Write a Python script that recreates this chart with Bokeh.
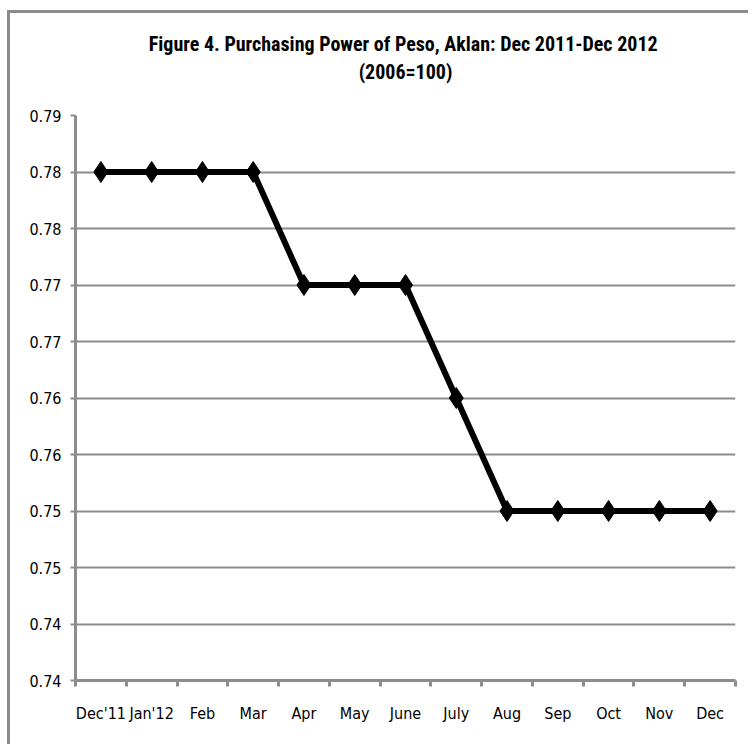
import numpy as np
from bokeh.plotting import figure
from bokeh.models import Range1d, FixedTicker, Title, ColumnDataSource
from bokeh.embed import file_html
from bokeh.resources import INLINE

months = ["Dec'11", "Jan'12", "Feb", "Mar", "Apr", "May", "June", "July",
          "Aug", "Sep", "Oct", "Nov", "Dec"]
ppp = [0.785, 0.785, 0.785, 0.785, 0.775, 0.775, 0.775, 0.765,
       0.755, 0.755, 0.755, 0.755, 0.755]
y_ticks = [0.74, 0.745, 0.75, 0.755, 0.76, 0.765, 0.77, 0.775, 0.78, 0.785, 0.79]
y_tick_labels = ["0.74", "0.74", "0.75", "0.75", "0.76", "0.76", "0.77", "0.77",
                 "0.78", "0.78", "0.79"]
title_lines = ["Figure 4. Purchasing Power of Peso,  Aklan: Dec 2011-Dec 2012", "(2006=100)"]

FONT = "DejaVu Sans Condensed"
TFONT = "Roboto Condensed"
GRAY = "#8c8c8c"

x_pos = np.arange(len(months)) + 0.5
src = ColumnDataSource(dict(x=x_pos, y=ppp, m=months))

p = figure(width=741, height=734, output_backend="svg", toolbar_location=None,
           x_range=Range1d(0, len(months)), y_range=Range1d(y_ticks[0], y_ticks[-1]),
           min_border_left=65, min_border_right=16, min_border_top=102, min_border_bottom=67)
p.styles = {"border-left": f"3px solid {GRAY}", "border-top": f"3px solid {GRAY}",
            "margin-left": "7px", "margin-top": "10px"}
p.outline_line_color = None
p.background_fill_color = "white"
p.border_fill_color = "white"

# titles: first added sits closest to the plot area (a blank spacer first)
p.add_layout(Title(text=" ", text_font=TFONT, text_font_size="20px", standoff=4), "above")
p.add_layout(Title(text=title_lines[1], align="center", text_font=TFONT,
                   text_font_style="bold", text_font_size="20px", text_color="black",
                   standoff=4), "above")
p.add_layout(Title(text=title_lines[0], align="center", text_font=TFONT,
                   text_font_style="bold", text_font_size="20px", text_color="black",
                   standoff=0), "above")

# y axis
yt = FixedTicker(ticks=y_ticks)
p.yaxis.ticker = yt
p.yaxis.major_label_overrides = {t: l for t, l in zip(y_ticks, y_tick_labels)}
p.yaxis.axis_line_color = GRAY
p.yaxis.axis_line_width = 3
p.yaxis.major_tick_line_color = GRAY
p.yaxis.major_tick_line_width = 2
p.yaxis.major_tick_out = 5
p.yaxis.major_tick_in = 0
p.yaxis.minor_tick_line_color = None
p.yaxis.major_label_standoff = 9
p.yaxis.major_label_text_font = FONT
p.yaxis.major_label_text_font_size = "16px"
p.yaxis.major_label_text_color = "black"

# x axis
xt = FixedTicker(ticks=list(x_pos), minor_ticks=list(range(len(months) + 1)))
p.xaxis.ticker = xt
p.xaxis.major_label_overrides = {float(x): m for x, m in zip(x_pos, months)}
p.xaxis.axis_line_color = GRAY
p.xaxis.axis_line_width = 3
p.xaxis.major_tick_line_color = None
p.xaxis.major_tick_out = 0
p.xaxis.major_tick_in = 0
p.xaxis.minor_tick_line_color = GRAY
p.xaxis.minor_tick_line_width = 3
p.xaxis.minor_tick_out = 6
p.xaxis.minor_tick_in = 0
p.xaxis.major_label_standoff = 17
p.xaxis.major_label_text_font = FONT
p.xaxis.major_label_text_font_size = "16px"
p.xaxis.major_label_text_color = "black"

p.xgrid.grid_line_color = None
p.ygrid.ticker = yt
p.ygrid.grid_line_color = GRAY
p.ygrid.grid_line_width = 2

p.line("x", "y", source=src, line_color="black", line_width=6)
p.scatter("x", "y", source=src, marker="diamond", size=21, fill_color="black",
          line_color="black")

open("out.html", "w").write(file_html(p, INLINE))
